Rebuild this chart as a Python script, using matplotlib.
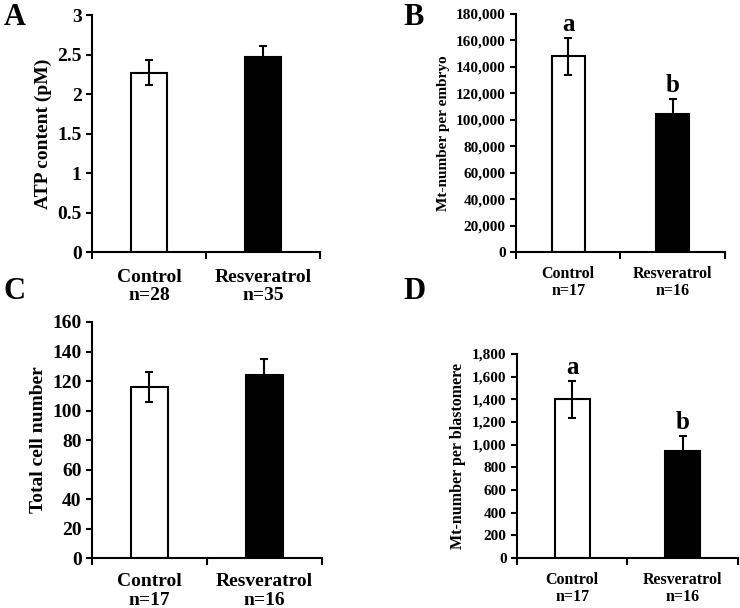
import numpy as np
import matplotlib.pyplot as plt
from matplotlib.ticker import FuncFormatter

plt.rcParams['font.family'] = ['Liberation Serif', 'DejaVu Serif']
plt.rcParams['font.weight'] = 'bold'

groups = ['Control', 'Resveratrol']

# A: ATP content
atp_n = [28, 35]
atp_mean = [2.27, 2.47]
atp_err = [0.16, 0.14]

# B: Mt-number per embryo
emb_n = [17, 16]
emb_mean = [148000, 104000]
emb_err = [14000, 11500]
emb_letters = ['a', 'b']

# C: Total cell number
cell_n = [17, 16]
cell_mean = [116, 124]
cell_err = [10, 11]

# D: Mt-number per blastomere
bls_n = [17, 16]
bls_mean = [1400, 948]
bls_err = [165, 130]
bls_letters = ['a', 'b']

fig = plt.figure(figsize=(7.4, 6.08), dpi=100)


def panel(rect, means, errs, ns, ylim, step, ylabel, fs_tick, fs_lab, fs_ylab, pad,
          comma=False, letters=None):
    ax = fig.add_axes(rect)
    x = np.arange(len(means))
    ax.bar(x, means, width=0.32, color=['white', 'black'], edgecolor='black', linewidth=1.5, zorder=2)
    ax.errorbar(x, means, yerr=errs, fmt='none', ecolor='black', elinewidth=1.5,
                capsize=3, capthick=1.5, zorder=3)
    ax.set_xlim(-0.5, 1.5)
    ax.set_ylim(*ylim)
    ax.set_yticks(np.arange(ylim[0], ylim[1] + step / 2, step))
    if comma:
        ax.yaxis.set_major_formatter(FuncFormatter(lambda v, p: f'{int(v):,}'))
    else:
        ax.yaxis.set_major_formatter(FuncFormatter(lambda v, p: f'{v:g}'))
    # ticks between categories, labels under the bars
    ax.set_xticks([-0.5, 0.5, 1.5])
    ax.set_xticklabels([])
    ax.set_xticks(x, minor=True)
    ax.set_xticklabels([f'{g}\nn={n}' for g, n in zip(groups, ns)], minor=True, linespacing=1.1)
    ax.tick_params(axis='x', which='major', direction='out', length=5, width=1.5)
    ax.tick_params(axis='x', which='minor', length=0, pad=pad, labelsize=fs_lab)
    ax.tick_params(axis='y', direction='out', length=4, width=1.5, labelsize=fs_tick)
    for s in ['top', 'right']:
        ax.spines[s].set_visible(False)
    for s in ['left', 'bottom']:
        ax.spines[s].set_linewidth(1.5)
    for lab in ax.get_xticklabels(minor=True) + ax.get_yticklabels():
        lab.set_fontweight('bold')
    ax.set_ylabel(ylabel, fontsize=fs_ylab, fontweight='bold')
    if letters:
        span = ylim[1] - ylim[0]
        for xi, m, e, l in zip(x, means, errs, letters):
            ax.text(xi, m + e + span * 0.008, l, ha='center', va='bottom', fontsize=18, fontweight='bold')
    return ax


axA = panel([0.1243, 0.5855, 0.3081, 0.3898], atp_mean, atp_err, atp_n, (0, 3), 0.5,
            'ATP content (pM)', 14, 14, 14, 12)
axB = panel([0.6973, 0.5855, 0.2824, 0.3915], emb_mean, emb_err, emb_n, (0, 180000), 20000,
            'Mt-number per embryo', 11, 11.5, 11, 10, comma=True, letters=emb_letters)
axC = panel([0.1243, 0.0822, 0.3107, 0.3882], cell_mean, cell_err, cell_n, (0, 160), 20,
            'Total cell number', 14, 14, 14, 11)
axD = panel([0.6986, 0.0822, 0.2987, 0.3356], bls_mean, bls_err, bls_n, (0, 1800), 200,
            'Mt-number per blastomere', 11, 11.5, 11.5, 10, comma=True, letters=bls_letters)

for lbl, (fx, fy) in zip('ABCD', [(0.005, 0.995), (0.545, 0.995), (0.005, 0.545), (0.545, 0.545)]):
    fig.text(fx, fy, lbl, fontsize=22, fontweight='bold', va='top', ha='left')

fig.savefig('out.png', dpi=100)
